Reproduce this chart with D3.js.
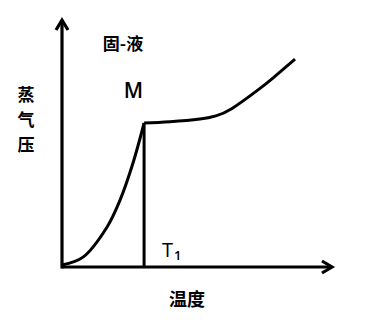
<!DOCTYPE html>
<html><head><meta charset="utf-8">
<script src="https://cdn.jsdelivr.net/npm/d3@7"></script>
<style>body{margin:0;background:#fff}svg{display:block}</style>
</head><body>
<script>
// Data (abstract units)
const xDomain = [0, 100];
const yDomain = [0, 100];
const T1 = 30.4;
const solidCurveX = [0, 7.8, 16.7, 21.5, 26.3, 30.4];
const solidCurveY = [0.8, 4, 16.2, 27.1, 42.1, 58.3];
const liquidCurveX = [30.4, 40, 51.1, 57, 63, 72.6, 78.1, 86.3];
const liquidCurveY = [58.3, 58.8, 59.9, 61.2, 64.2, 71.7, 76.5, 84.2];
const labels = {phase: "固-液", point: "M", xTitle: "温度", yTitle: ["蒸", "气", "压"], tick: "T", tickSub: "1"};

const W = 371, H = 322;
const svg = d3.select("body").append("svg").attr("width", W).attr("height", H);
const x = d3.scaleLinear().domain(xDomain).range([62, 332]);
const y = d3.scaleLinear().domain(yDomain).range([267, 20]);

const stroke = "#000";
// axes
svg.append("line").attr("x1", x(0)).attr("x2", x(100)).attr("y1", y(0)).attr("y2", y(0))
  .attr("stroke", stroke).attr("stroke-width", 3.2);
svg.append("line").attr("x1", x(0)).attr("x2", x(0)).attr("y1", y(0) + 1.5).attr("y2", y(100))
  .attr("stroke", stroke).attr("stroke-width", 3.2);
// arrowheads
svg.append("path").attr("d", `M${x(100)-10},${y(0)-6}L${x(100)},${y(0)}L${x(100)-10},${y(0)+6}`)
  .attr("fill", "none").attr("stroke", stroke).attr("stroke-width", 3.2).attr("stroke-linejoin", "miter");
svg.append("path").attr("d", `M${x(0)-6},${y(100)+10}L${x(0)},${y(100)}L${x(0)+6},${y(100)+10}`)
  .attr("fill", "none").attr("stroke", stroke).attr("stroke-width", 3.2).attr("stroke-linejoin", "miter");

const lineSolid = d3.line().x(d => x(d[0])).y(d => y(d[1])).curve(d3.curveCatmullRom.alpha(0.5));
const lineLiquid = d3.line().x(d => x(d[0])).y(d => y(d[1])).curve(d3.curveNatural);
svg.append("path").datum(d3.zip(solidCurveX, solidCurveY)).attr("d", lineSolid)
  .attr("fill", "none").attr("stroke", stroke).attr("stroke-width", 3);
svg.append("path").datum(d3.zip(liquidCurveX, liquidCurveY)).attr("d", lineLiquid)
  .attr("fill", "none").attr("stroke", stroke).attr("stroke-width", 3);
// vertical at T1
svg.append("line").attr("x1", x(T1)).attr("x2", x(T1)).attr("y1", y(solidCurveY[solidCurveY.length-1])).attr("y2", y(0))
  .attr("stroke", stroke).attr("stroke-width", 3);

const cjk = "'Noto Sans CJK SC', sans-serif";
const latin = "'Open Sans', 'Liberation Sans', sans-serif";
svg.append("text").attr("x", 123).attr("y", 50).attr("text-anchor", "middle").attr("fill", "#000")
  .attr("font-family", cjk).attr("font-weight", "bold").attr("font-size", 17).text(labels.phase);
svg.append("text").attr("x", 133.5).attr("y", 98).attr("text-anchor", "middle").attr("fill", "#000")
  .attr("font-family", latin).attr("font-weight", 600).attr("font-size", 21).text(labels.point);
labels.yTitle.forEach((c, i) => {
  svg.append("text").attr("x", 26).attr("y", 101 + i * 25).attr("text-anchor", "middle").attr("fill", "#000")
    .attr("font-family", cjk).attr("font-weight", "bold").attr("font-size", 17).text(c);
});
svg.append("text").attr("x", 187).attr("y", 306).attr("text-anchor", "middle").attr("fill", "#000")
  .attr("font-family", cjk).attr("font-weight", "bold").attr("font-size", 18).text(labels.xTitle);
const t = svg.append("text").attr("x", 162).attr("y", 257).attr("fill", "#000").attr("font-family", latin).attr("font-size", 20);
t.append("tspan").attr("fill", "#000").text(labels.tick);
t.append("tspan").attr("fill", "#000").attr("font-size", 13).attr("font-weight", 600).attr("dy", 3).attr("dx", 1).text(labels.tickSub);
</script>
</body></html>
